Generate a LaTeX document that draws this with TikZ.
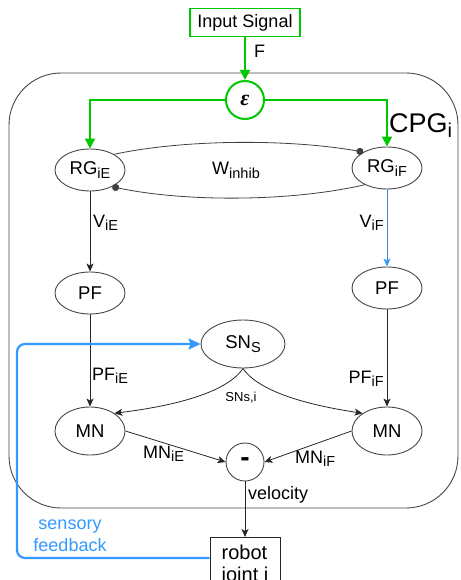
\documentclass[tikz,border=0pt]{standalone}
\usepackage{fontspec}
\setmainfont{Liberation Sans}
\newfontfamily\epsfont{Liberation Serif}
\usetikzlibrary{shapes.geometric,arrows.meta,calc}
\definecolor{cgreen}{RGB}{0,200,0}
\definecolor{cblue}{RGB}{51,153,255}
\definecolor{vblue}{RGB}{60,130,210}
\definecolor{outline}{RGB}{70,70,70}
\newcommand\sbs[1]{\raisebox{-3.5pt}{\fontsize{14.5}{14.5}\selectfont #1}}
\begin{document}
\begin{tikzpicture}[x=1pt,y=1pt,
  txt/.style={font=\fontsize{18}{22}\selectfont,inner sep=0pt},
  ell/.style={ellipse,draw=outline,line width=0.9pt,inner sep=0pt,minimum width=70pt,minimum height=42pt,font=\fontsize{18.5}{22}\selectfont},
  circ/.style={circle,draw=outline,line width=0.9pt,inner sep=0pt,minimum size=38pt},
  conn/.style={draw=black!85,line width=0.8pt,-{Stealth[length=8pt,width=7pt,inset=2pt]}},
  inhib/.style={draw=black!75,line width=0.8pt,-{Circle[length=7pt,width=7pt]}},
  garrow/.style={draw=cgreen,line width=1.8pt,-{Triangle[length=10pt,width=10pt]}},
  fbarrow/.style={draw=cblue,line width=2.2pt,rounded corners=8pt,-{Stealth[length=12pt,width=11pt,inset=2pt]}},
]
\useasboundingbox (0,0) rectangle (460,-580);
% outer CPG box
\draw[draw=outline,line width=0.9pt,rounded corners=52pt] (9,-73) rectangle (458,-508);
\node[txt,anchor=base west] (cpg) at (389,-133) {\fontsize{27}{30}\selectfont CPG\raisebox{-5pt}{\fontsize{20}{20}\selectfont i}};

% nodes
\node[draw=cgreen,line width=1.6pt,minimum width=110pt,minimum height=28pt,inner sep=0pt,font=\fontsize{18}{22}\selectfont] (inp) at (245,-22.5) {Input Signal};
\node[circ,draw=cgreen,line width=2pt] (eps) at (245,-100) {\fontsize{22}{22}\selectfont\epsfont\bfseries\itshape ε};
\node[ell] (rgE) at (90,-170) {RG\sbs{iE}};
\node[ell] (rgF) at (387,-168) {RG\sbs{iF}};
\node[ell] (pfE) at (90,-293) {PF};
\node[ell] (pfF) at (387,-288) {PF};
\node[ell,minimum width=84pt,minimum height=48pt] (sn) at (243,-344) {SN\sbs{S}};
\node[ell,minimum height=48pt] (mnE) at (90,-431) {MN};
\node[ell,minimum height=48pt] (mnF) at (387,-431) {MN};
\node[circ] (minus) at (245,-462) {\fontsize{28}{28}\selectfont\bfseries -};
\node[draw=black!85,line width=0.9pt,anchor=north,minimum width=70pt,minimum height=56pt,inner xsep=6pt,inner ysep=5pt,align=left,font=\fontsize{20}{22}\selectfont] (robot) at (245,-537) {robot\\joint i};

% green input connections
\draw[garrow] (inp) -- (eps);
\node[txt,anchor=base west] (lF) at (254,-58) {F};
\draw[garrow] (eps.west) -| (rgE.north);
\draw[garrow] (eps.east) -| (rgF.north);

% inhibitory connections
\draw[inhib] (rgE.33) .. controls (185,-139) and (290,-139) .. (rgF.146);
\draw[inhib] (rgF.-143) .. controls (290,-202) and (185,-202) .. (rgE.-37);
\node[txt,anchor=base west] (lW) at (212,-175) {W\sbs{inhib}};

% RG -> PF
\draw[conn] (rgE) -- (pfE);
\draw[conn,draw=vblue,-{Stealth[length=8pt,width=7pt,inset=2pt,color=cblue]}] (rgF) -- (pfF);
\node[txt,anchor=base west] (lVE) at (93,-227) {V\sbs{iE}};
\node[txt,anchor=base east] (lVF) at (384,-227) {V\sbs{iF}};

% PF -> MN
\draw[conn] (pfE) -- (mnE);
\draw[conn] (pfF) -- (mnF);
\node[txt,anchor=base west] (lPE) at (92,-380) {PF\sbs{iE}};
\node[txt,anchor=base east] (lPF) at (384,-383) {PF\sbs{iF}};

% SN -> MN
\draw[conn] (sn.south) .. controls (225,-395) and (165,-407) .. (mnE.36);
\draw[conn] (sn.south) .. controls (261,-395) and (321,-407) .. (mnF.144);
\node[txt,font=\fontsize{13}{15}\selectfont,anchor=base] (lSN) at (241,-401) {SNs,i};

% MN -> minus
\draw[conn] (mnE.east) -- (minus.west);
\draw[conn] (mnF.west) -- (minus.east);
\node[txt,anchor=base west] (lME) at (143,-458) {MN\sbs{iE}};
\node[txt,anchor=base west] (lMF) at (295,-463) {MN\sbs{iF}};

% minus -> robot
\draw[conn] (minus) -- (robot.north);
\node[txt,anchor=base west] (lv) at (248,-499) {velocity};

% sensory feedback
\coordinate (fbc) at (17,-450);
\draw[fbarrow] ([yshift=-21pt]robot.north west) -| (fbc) |- (sn.west);
\node[txt,text=cblue,anchor=base] (ls1) at (70,-529) {sensory};
\node[txt,text=cblue,anchor=base] (ls2) at (70,-551) {feedback};
\end{tikzpicture}
\end{document}
